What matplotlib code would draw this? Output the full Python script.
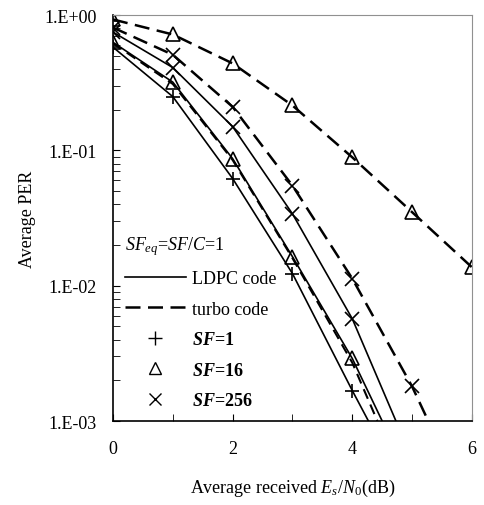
import numpy as np
import matplotlib.pyplot as plt
from matplotlib.lines import Line2D

plt.rcParams['font.family'] = ['Liberation Serif', 'DejaVu Serif']
plt.rcParams['mathtext.fontset'] = 'custom'
plt.rcParams['mathtext.rm'] = 'Liberation Serif'
plt.rcParams['mathtext.it'] = 'Liberation Serif:italic'
plt.rcParams['mathtext.bf'] = 'Liberation Serif:bold'
plt.rcParams['mathtext.bfit'] = 'Liberation Serif:italic:bold'

# 数据: x 为整数点, 最后一点为曲线到达 1E-3 的位置
x_ldpc_sf1 = [0, 1, 2, 3, 4, 4.27]
y_ldpc_sf1 = [0.58, 0.25, 0.062, 0.0123, 0.00168, 0.001]
x_ldpc_sf16 = [0, 1, 2, 3, 4, 4.5]
y_ldpc_sf16 = [0.63, 0.32, 0.087, 0.0164, 0.0029, 0.001]
x_ldpc_sf256 = [0, 1, 2, 3, 4, 4.73]
y_ldpc_sf256 = [0.75, 0.41, 0.15, 0.034, 0.0057, 0.001]
x_turbo_sf1 = [0, 1, 2, 3, 4, 4.42]
y_turbo_sf1 = [0.62, 0.31, 0.085, 0.016, 0.0027, 0.001]
x_turbo_sf16 = [0, 1, 2, 3, 4, 5, 6]
y_turbo_sf16 = [0.93, 0.72, 0.44, 0.215, 0.089, 0.035, 0.0137]
x_turbo_sf256 = [0, 1, 2, 3, 4, 5, 5.27]
y_turbo_sf256 = [0.81, 0.51, 0.21, 0.055, 0.0113, 0.0018, 0.001]

fig = plt.figure(figsize=(4.85, 5.06), dpi=100)
ax = fig.add_axes([0.233, 0.166, 0.740, 0.802])

dash = (0, (6, 3))
mk = dict(color='black', markersize=10, markerfacecolor='none', markeredgewidth=1.2)

# LDPC 实线
ax.plot(x_ldpc_sf1, y_ldpc_sf1, '-', lw=1.2, marker='+', markevery=list(range(5)), **mk)
ax.plot(x_ldpc_sf16, y_ldpc_sf16, '-', lw=1.2, marker='^', markevery=list(range(5)), **mk)
ax.plot(x_ldpc_sf256, y_ldpc_sf256, '-', lw=1.2, marker='x', markevery=list(range(5)), **mk)
# turbo 虚线
ax.plot(x_turbo_sf1, y_turbo_sf1, color='black', lw=1.5, linestyle=(0, (5, 3)))
ax.plot(x_turbo_sf16, y_turbo_sf16, lw=1.8, linestyle=dash, marker='^', markevery=list(range(7)), **mk)
ax.plot(x_turbo_sf256, y_turbo_sf256, lw=1.8, linestyle=dash, marker='x', markevery=list(range(6)), **mk)

ax.set_yscale('log')
ax.set_ylim(1e-3, 1)
ax.set_xlim(0, 6)
ax.set_yticks([1e-3, 1e-2, 1e-1, 1])
ax.set_yticklabels(['1.E-03', '1.E-02', '1.E-01', '1.E+00'])
ax.set_xticks([0, 2, 4, 6])
ax.set_xticks([1, 3, 5], minor=True)
ax.tick_params(axis='both', which='both', direction='in', labelsize=13, length=5)
ax.tick_params(axis='y', pad=12)
ax.tick_params(axis='x', pad=14)

for s in ['top', 'right']:
    ax.spines[s].set_color('#909090')
for s in ['left', 'bottom']:
    ax.spines[s].set_linewidth(1.2)

ax.set_ylabel('Average PER', fontsize=13, labelpad=6)
ax.set_xlabel('Average received $E_s/N_0$(dB)', fontsize=13, labelpad=14)

handles = [
    Line2D([], [], color='black', lw=1.2),
    Line2D([], [], color='black', lw=1.8, linestyle=(0, (6, 3))),
    Line2D([], [], color='black', lw=0, marker='+', markersize=10),
    Line2D([], [], color='black', lw=0, marker='^', markersize=9, markerfacecolor='none'),
    Line2D([], [], color='black', lw=0, marker='x', markersize=9),
]
labels = ['LDPC code', 'turbo code', r'$\mathbfit{SF}$=1', r'$\mathbfit{SF}$=16', r'$\mathbfit{SF}$=256']
leg = ax.legend(handles, labels, loc='lower left', frameon=False, fontsize=13,
                title=r'$SF_{eq}$=$SF/C$=1', title_fontsize=13,
                handlelength=3.4, labelspacing=0.75, handletextpad=0.3,
                borderaxespad=0.25, alignment='left')
for t in leg.get_texts()[2:]:
    t.set_fontweight('bold')

plt.savefig('out.png', dpi=100)
